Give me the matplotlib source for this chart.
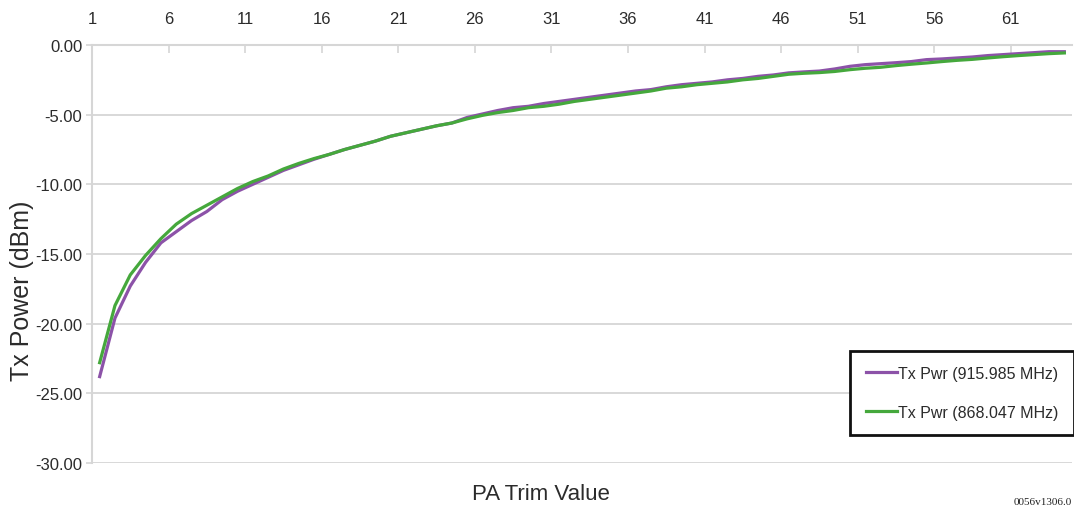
"""
PA trim sweep: Tx power vs PA trim value for two carrier frequencies.
"""

import matplotlib
matplotlib.use("Agg")
import matplotlib.pyplot as plt
import numpy as np

plt.rcParams.update({
    "font.family": ["Liberation Sans", "DejaVu Sans"],
    "figure.dpi": 100,
})

# ------------------------------------------------------------
# Data
# ------------------------------------------------------------
trim = np.arange(1, 65)

pwr_915 = [
    -23.8, -19.6, -17.3, -15.6, -14.2, -13.4, -12.6, -11.95,
    -11.1, -10.5, -10.0, -9.5, -9.0, -8.6, -8.2, -7.85,
    -7.5, -7.2, -6.9, -6.55, -6.3, -6.05, -5.8, -5.6,
    -5.2, -4.95, -4.7, -4.5, -4.4, -4.2, -4.05, -3.9,
    -3.75, -3.6, -3.45, -3.3, -3.2, -3.0, -2.85, -2.75,
    -2.65, -2.5, -2.4, -2.25, -2.15, -2.0, -1.93, -1.87,
    -1.72, -1.53, -1.41, -1.34, -1.27, -1.19, -1.05, -1.0,
    -0.93, -0.86, -0.76, -0.69, -0.62, -0.55, -0.48, -0.48,
]

pwr_868 = [
    -22.8, -18.7, -16.5, -15.1, -13.9, -12.86, -12.1, -11.5,
    -10.9, -10.3, -9.8, -9.4, -8.9, -8.5, -8.15, -7.85,
    -7.5, -7.2, -6.9, -6.55, -6.3, -6.05, -5.8, -5.6,
    -5.3, -5.05, -4.85, -4.7, -4.5, -4.4, -4.25, -4.05,
    -3.9, -3.75, -3.6, -3.45, -3.3, -3.1, -3.0, -2.85,
    -2.75, -2.65, -2.5, -2.4, -2.25, -2.1, -2.03, -1.98,
    -1.9, -1.77, -1.67, -1.6, -1.48, -1.38, -1.29, -1.19,
    -1.1, -1.03, -0.93, -0.84, -0.76, -0.69, -0.62, -0.57,
]

x_labels = list(range(1, 65, 5))
y_ticks = [0, -5, -10, -15, -20, -25, -30]

labels = ["Tx Pwr (915.985 MHz)", "Tx Pwr (868.047 MHz)"]
colors = ["#8c52a8", "#45a83c"]

GRID = "#d6d6d6"
TXT = "#2b2b2b"

# ------------------------------------------------------------
# Plot
# ------------------------------------------------------------
fig = plt.figure(figsize=(10.74, 5.10))
ax = fig.add_axes([92 / 1074, 1 - 464 / 510, 980 / 1074, 418 / 510])

ax.plot(trim, pwr_915, color=colors[0], lw=2.3, label=labels[0], zorder=3)
ax.plot(trim, pwr_868, color=colors[1], lw=2.3, label=labels[1], zorder=4)

ax.set_xlim(0.5, 64.5)
ax.set_ylim(-30, 0)

# category-style axis on top, labels sit on the tick marks
ax.xaxis.tick_top()
ax.set_xticks([v - 0.5 for v in x_labels])
ax.set_xticklabels([str(v) for v in x_labels])
ax.tick_params(axis="x", direction="in", length=6, width=1.2, color=GRID,
               pad=14, labelsize=12, labelcolor=TXT)

ax.set_yticks(y_ticks)
ax.set_yticklabels([f"{v:.2f}" for v in y_ticks])
ax.tick_params(axis="y", direction="out", length=4, width=1.2, color=GRID,
               pad=3, labelsize=12, labelcolor=TXT)

ax.grid(axis="y", color=GRID, lw=1.3, zorder=0)
for side in ["right", "bottom"]:
    ax.spines[side].set_visible(False)
for side in ["left", "top"]:
    ax.spines[side].set_color(GRID)
    ax.spines[side].set_linewidth(1.5)

fig.text(22 / 1074, 1 - 291 / 510, "Tx Power (dBm)", fontsize=18,
         color=TXT, ha="center", va="center", rotation=90)
fig.text(541 / 1074, 1 - 495 / 510, "PA Trim Value", fontsize=16,
         color=TXT, ha="center", va="center")

leg = ax.legend(loc="lower right", bbox_to_anchor=(1.002, 0.067),
                fontsize=11.5, frameon=True, fancybox=False, framealpha=1,
                handlelength=1.95, handletextpad=0.1, labelspacing=1.5,
                borderpad=0.95, borderaxespad=0)
leg.get_frame().set_edgecolor("#111111")
leg.get_frame().set_linewidth(2.0)
for t in leg.get_texts():
    t.set_color(TXT)

fig.text(1072 / 1074, 1 - 503 / 510, "0056v1306.0", fontsize=8,
         family=["Liberation Serif", "DejaVu Serif"], ha="right", va="center",
         color="#222222")

fig.savefig("out.png", dpi=100)
